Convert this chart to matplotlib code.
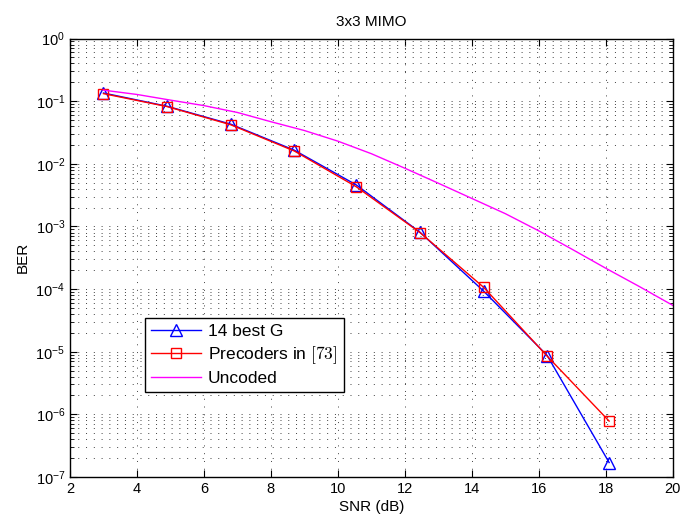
import numpy as np
import matplotlib
matplotlib.use("Agg")
import matplotlib.pyplot as plt
from matplotlib.ticker import LogLocator, FuncFormatter, NullFormatter
from matplotlib.font_manager import FontProperties

plt.rcParams['font.family'] = ['Liberation Sans', 'DejaVu Sans']

snr_pts = [3.0, 4.9, 6.8, 8.7, 10.55, 12.45, 14.35, 16.25, 18.1]
ber_best = [0.135, 0.083, 0.043, 0.0165, 0.0046, 8.1e-4, 9.3e-5, 8.7e-6, 1.7e-7]
ber_prec = [0.132, 0.082, 0.042, 0.0160, 0.0043, 8.0e-4, 1.07e-4, 8.5e-6, 7.8e-7]

snr_unc = [3, 4, 5, 6, 7, 8, 9, 10, 11, 12, 13, 14, 15, 16, 17, 18, 19, 20]
ber_unc = [0.15, 0.128, 0.104, 0.085, 0.066, 0.047, 0.034, 0.023, 0.0145, 0.0085,
           0.0049, 0.0028, 0.0016, 8.5e-4, 4.3e-4, 2.15e-4, 1.1e-4, 5.5e-5]

labels = ['14 best G', r'Precoders in $[73]$', 'Uncoded']

fig = plt.figure(figsize=(6.83, 5.21), dpi=100)
ax = fig.add_axes([0.1025, 0.0845, 0.8825, 0.8415])

ax.semilogy(snr_pts, ber_best, color='blue', marker='^', markersize=8,
            markerfacecolor='none', markeredgecolor='blue', lw=1.0, label=labels[0])
ax.semilogy(snr_pts, ber_prec, color='red', marker='s', markersize=7,
            markerfacecolor='none', markeredgecolor='red', lw=1.0, label=labels[1])
ax.semilogy(snr_unc, ber_unc, color='magenta', lw=1.0, label=labels[2])

ax.set_xlim(2, 20)
ax.set_ylim(1e-7, 1)
ax.set_xticks(np.arange(2, 21, 2))
ax.yaxis.set_major_locator(LogLocator(base=10, numticks=20))
ax.yaxis.set_minor_locator(LogLocator(base=10, subs=np.arange(2, 10), numticks=20))
ax.yaxis.set_minor_formatter(NullFormatter())
ax.yaxis.set_major_formatter(FuncFormatter(
    lambda v, p: r'$\mathregular{10^{%d}}$' % int(round(np.log10(v)))))

dots = (0, (1, 7))
ax.grid(True, which='major', axis='both', linestyle=dots, color='0.25', lw=0.7)
ax.grid(True, which='minor', axis='y', linestyle=dots, color='0.25', lw=0.7)

ax.tick_params(which='both', direction='in', top=True, right=True, labelsize=10.5)
ax.tick_params(which='major', length=5)
ax.tick_params(which='minor', length=3)
for s in ax.spines.values():
    s.set_linewidth(1.0)

ax.set_title('3x3 MIMO', fontsize=11, pad=9)
ax.set_xlabel('SNR (dB)', fontsize=11, labelpad=3)
ax.set_ylabel('BER', fontsize=11, labelpad=4)

leg = ax.legend(loc='upper left', bbox_to_anchor=(0.124, 0.363), borderaxespad=0,
                prop=FontProperties(family='Liberation Sans', size=12.5, math_fontfamily='cm'),
                fancybox=False, framealpha=1, edgecolor='black',
                handlelength=2.9, borderpad=0.35, labelspacing=0.3, handletextpad=0.4)
leg.get_frame().set_linewidth(1.0)

fig.savefig('out.png', dpi=100)
